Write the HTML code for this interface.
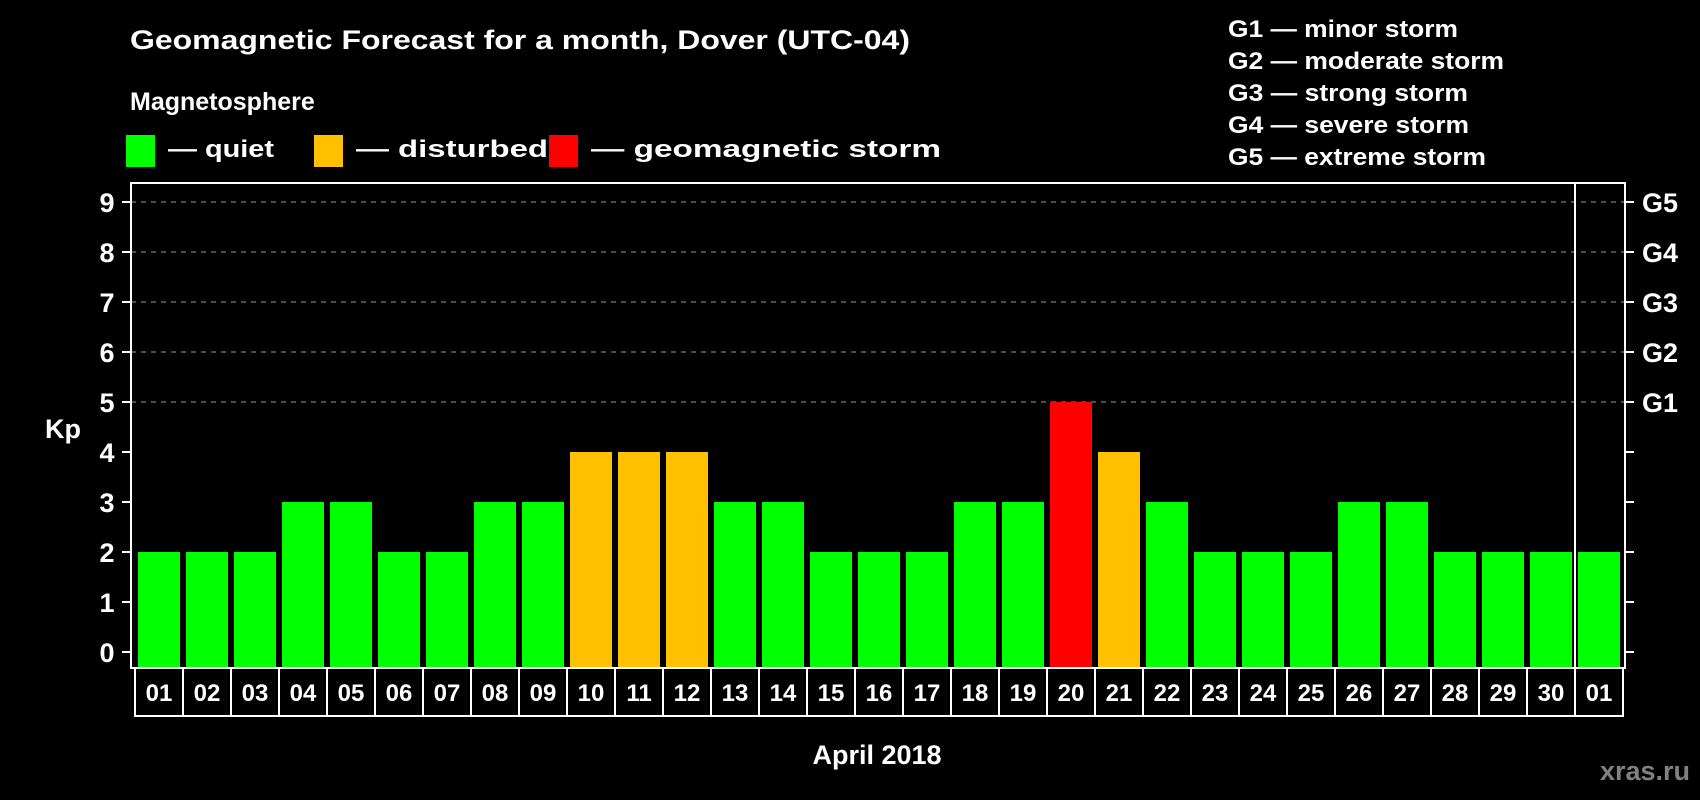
<!DOCTYPE html>
<html><head><meta charset="utf-8"><style>
html,body{margin:0;padding:0;background:#000;}
svg{display:block;font-family:"Liberation Sans",Arial,sans-serif;font-weight:bold;}
</style></head><body>
<svg id="chart" width="1700" height="800" viewBox="0 0 1700 800">
<rect x="0" y="0" width="1700" height="800" fill="#000"/>
<text x="130" y="49" fill="#fff" font-size="27" textLength="780" lengthAdjust="spacingAndGlyphs">Geomagnetic Forecast for a month, Dover (UTC-04)</text>
<text x="130" y="110" fill="#fff" font-size="25">Magnetosphere</text>
<g>
<rect x="126" y="135" width="29" height="32" fill="#00ff00"/>
<text x="168" y="157" fill="#fff" font-size="24" textLength="106" lengthAdjust="spacingAndGlyphs">— quiet</text></g>
<g>
<rect x="314" y="135" width="29" height="32" fill="#ffc000"/>
<text x="356" y="157" fill="#fff" font-size="24" textLength="192" lengthAdjust="spacingAndGlyphs">— disturbed</text></g>
<g>
<rect x="549" y="135" width="29" height="32" fill="#ff0000"/>
<text x="591" y="157" fill="#fff" font-size="24" textLength="350" lengthAdjust="spacingAndGlyphs">— geomagnetic storm</text></g>
<g fill="#fff" font-size="24">
<text x="1228" y="37" textLength="230" lengthAdjust="spacingAndGlyphs">G1 — minor storm</text>
<text x="1228" y="69" textLength="276" lengthAdjust="spacingAndGlyphs">G2 — moderate storm</text>
<text x="1228" y="101" textLength="240" lengthAdjust="spacingAndGlyphs">G3 — strong storm</text>
<text x="1228" y="133" textLength="241" lengthAdjust="spacingAndGlyphs">G4 — severe storm</text>
<text x="1228" y="165" textLength="258" lengthAdjust="spacingAndGlyphs">G5 — extreme storm</text>
</g>
<text x="63" y="438" fill="#fff" font-size="27" text-anchor="middle">Kp</text>
<text x="877" y="764" fill="#fff" font-size="27" text-anchor="middle">April 2018</text>
<text x="1690" y="780" fill="#808080" font-size="27" text-anchor="end">xras.ru</text>
<g id="grid"></g><g id="bars"></g><g id="axes"></g><g id="xlabels"></g>
</svg>
<script>
const days = ["01","02","03","04","05","06","07","08","09","10","11","12","13","14","15","16","17","18","19","20","21","22","23","24","25","26","27","28","29","30","01"];
const kpValues = [2,2,2,3,3,2,2,3,3,4,4,4,3,3,2,2,2,3,3,5,4,3,2,2,2,3,3,2,2,2,2];
const yTicks = [0,1,2,3,4,5,6,7,8,9];
const gLabels = ["G1","G2","G3","G4","G5"];
const gLevels = [5,6,7,8,9];

const NS = "http://www.w3.org/2000/svg";
const frameL = 131, frameR = 1625, frameT = 183, frameB = 668;
const y0 = 652, unit = 50, barStart = 138, pitch = 48, barW = 42;
function yScale(v){ return y0 - v*unit; }
function xScale(i){ return barStart + i*pitch; }
function mk(tag, attrs, parent){ const e=document.createElementNS(NS,tag); for(const k in attrs) e.setAttribute(k,attrs[k]); parent.appendChild(e); return e; }
function color(v){ return v>=5 ? "#ff0000" : (v>=4 ? "#ffc000" : "#00ff00"); }

const grid = document.getElementById("grid");
gLevels.forEach(function(v){
  const l = mk("line",{x1:frameL,x2:frameR,y1:yScale(v),y2:yScale(v),stroke:"#999","stroke-width":1,"stroke-dasharray":"5,5"},grid);
  
  
});

const bars = document.getElementById("bars");
kpValues.forEach(function(v,i){
  const r = mk("rect",{x:xScale(i),y:yScale(v),width:barW,height:frameB-yScale(v),fill:color(v)},bars);
  
  
});

const axes = document.getElementById("axes");
const frame = mk("rect",{x:frameL,y:frameT,width:frameR-frameL,height:frameB-frameT,fill:"none",stroke:"#fff","stroke-width":2},axes);


const sep = mk("line",{x1:1575,x2:1575,y1:frameT,y2:frameB,stroke:"#fff","stroke-width":2},axes);


yTicks.forEach(function(v){
  const t1 = mk("line",{x1:frameL-9,x2:frameL,y1:yScale(v),y2:yScale(v),stroke:"#fff","stroke-width":2},axes);
  
  
  const t2 = mk("line",{x1:frameR,x2:frameR+9,y1:yScale(v),y2:yScale(v),stroke:"#fff","stroke-width":2},axes);
  
  
  const tx = mk("text",{x:107,y:yScale(v)+10,fill:"#fff","font-size":27,"text-anchor":"middle"},axes);
  tx.textContent = v;
  
  
});
gLabels.forEach(function(g,i){
  const tx = mk("text",{x:1642,y:yScale(gLevels[i])+10,fill:"#fff","font-size":27},axes);
  tx.textContent = g;
  
  
});

const xl = document.getElementById("xlabels");
days.forEach(function(d,i){
  const bx = 135 + i*pitch;
  const r = mk("rect",{x:bx,y:frameB,width:pitch,height:716-frameB,fill:"none",stroke:"#fff","stroke-width":2},xl);
  
  
  const t = mk("text",{x:bx+pitch/2,y:701,fill:"#fff","font-size":24,"text-anchor":"middle"},xl);
  t.textContent = d;
  
  
});
</script>
</body></html>
